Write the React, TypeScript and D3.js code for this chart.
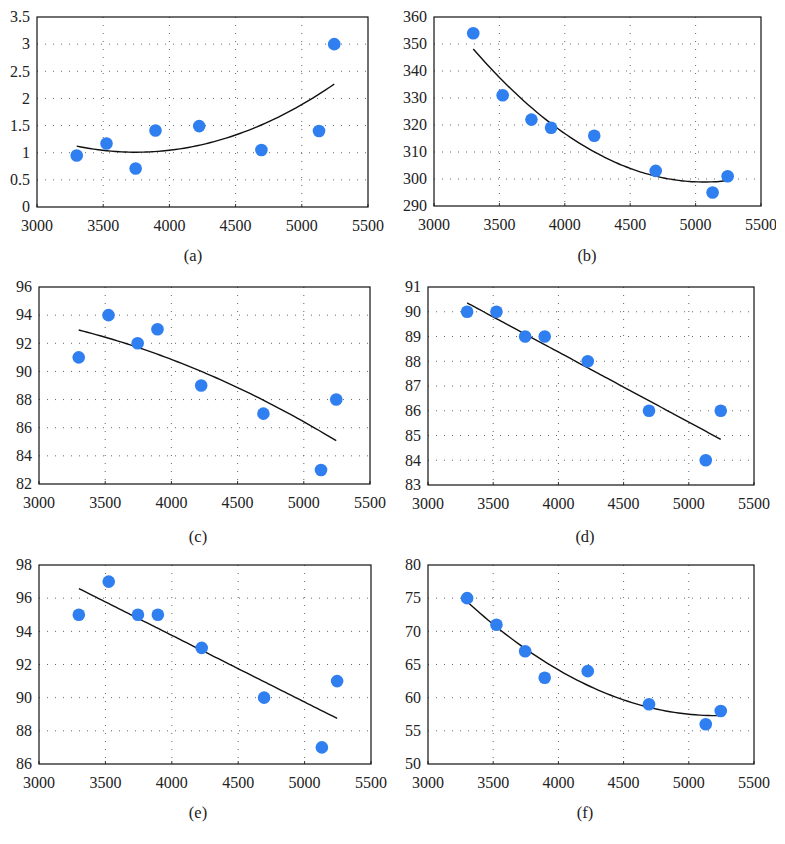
import React from "react";
import * as d3 from "d3";

const xValues = [3300, 3525, 3745, 3895, 4225, 4695, 5130, 5245];
const xTicks = [3000, 3500, 4000, 4500, 5000, 5500];

const seriesA = [0.95, 1.17, 0.71, 1.41, 1.49, 1.05, 1.4, 3.0];
const seriesB = [354, 331, 322, 319, 316, 303, 295, 301];
const seriesC = [91, 94, 92, 93, 89, 87, 83, 88];
const seriesD = [90, 90, 89, 89, 88, 86, 84, 86];
const seriesE = [95, 97, 95, 95, 93, 90, 87, 91];
const seriesF = [75, 71, 67, 63, 64, 59, 56, 58];

const ticksA = [0, 0.5, 1, 1.5, 2, 2.5, 3, 3.5];
const ticksB = [290, 300, 310, 320, 330, 340, 350, 360];
const ticksC = [82, 84, 86, 88, 90, 92, 94, 96];
const ticksD = [83, 84, 85, 86, 87, 88, 89, 90, 91];
const ticksE = [86, 88, 90, 92, 94, 96, 98];
const ticksF = [50, 55, 60, 65, 70, 75, 80];

const captions = ["(a)", "(b)", "(c)", "(d)", "(e)", "(f)"];
const fitDegrees = [2, 2, 2, 1, 1, 2];

type Panel = {
  values: number[];
  ticks: number[];
  caption: string;
  degree: number;
  left: number;
  right: number;
  top: number;
  bottom: number;
  capX: number;
  capY: number;
};

const layout = [
  { left: 37, right: 368, top: 17, bottom: 207, capX: 193, capY: 261 },
  { left: 434, right: 761, top: 17, bottom: 206, capX: 587, capY: 261 },
  { left: 39, right: 370, top: 287, bottom: 484, capX: 198, capY: 542 },
  { left: 428, right: 754, top: 287, bottom: 485, capX: 585, capY: 542 },
  { left: 39, right: 371, top: 565, bottom: 764, capX: 198, capY: 818 },
  { left: 428, right: 754, top: 565, bottom: 764, capX: 585, capY: 818 },
];

const allSeries = [seriesA, seriesB, seriesC, seriesD, seriesE, seriesF];
const allTicks = [ticksA, ticksB, ticksC, ticksD, ticksE, ticksF];

// least squares polynomial fit (degree 1 or 2), x centered
function polyFit(xs: number[], ys: number[], deg: number) {
  const mx = d3.mean(xs) as number;
  const n = deg + 1;
  const A: number[][] = Array.from({ length: n }, () => Array(n + 1).fill(0));
  xs.forEach((x0, k) => {
    const x = (x0 - mx) / 1000;
    for (let i = 0; i < n; i++) {
      for (let j = 0; j < n; j++) A[i][j] += Math.pow(x, i + j);
      A[i][n] += Math.pow(x, i) * ys[k];
    }
  });
  for (let i = 0; i < n; i++) {
    let p = i;
    for (let r = i + 1; r < n; r++) if (Math.abs(A[r][i]) > Math.abs(A[p][i])) p = r;
    [A[i], A[p]] = [A[p], A[i]];
    for (let r = 0; r < n; r++) {
      if (r === i) continue;
      const f = A[r][i] / A[i][i];
      for (let c = i; c <= n; c++) A[r][c] -= f * A[i][c];
    }
  }
  const coef = A.map((row, i) => row[n] / row[i]);
  return (x0: number) => {
    const x = (x0 - mx) / 1000;
    return coef.reduce((s, c, i) => s + c * Math.pow(x, i), 0);
  };
}

const FONT = '"Liberation Serif", "DejaVu Serif", serif';

function PanelView({ p }: { p: Panel }) {
  const xs = d3.scaleLinear().domain([3000, 5500]).range([p.left, p.right]);
  const ys = d3
    .scaleLinear()
    .domain([p.ticks[0], p.ticks[p.ticks.length - 1]])
    .range([p.bottom, p.top]);
  const f = polyFit(xValues, p.values, p.degree);
  const x0 = d3.min(xValues) as number;
  const x1 = d3.max(xValues) as number;
  const samples = d3.range(0, 61).map((i) => x0 + ((x1 - x0) * i) / 60);
  const line = d3
    .line<number>()
    .x((d) => xs(d))
    .y((d) => ys(f(d)))
    .curve(d3.curveMonotoneX);
  return (
    <g>
      {p.ticks.slice(1, -1).map((t) => (
        <line
          key={"h" + t}
          x1={p.left}
          x2={p.right}
          y1={ys(t)}
          y2={ys(t)}
          stroke="#666"
          strokeWidth={1}
          strokeDasharray="1 7"
        />
      ))}
      {xTicks.slice(1, -1).map((t) => (
        <line
          key={"v" + t}
          x1={xs(t)}
          x2={xs(t)}
          y1={p.top}
          y2={p.bottom}
          stroke="#666"
          strokeWidth={1}
          strokeDasharray="1 7"
        />
      ))}
      {xTicks.map((t) => (
        <line key={"xt" + t} x1={xs(t)} x2={xs(t)} y1={p.bottom} y2={p.bottom - 3} stroke="#333" />
      ))}
      <rect
        x={p.left}
        y={p.top}
        width={p.right - p.left}
        height={p.bottom - p.top}
        fill="none"
        stroke="#111"
        strokeWidth={1.2}
      />
      <path d={line(samples) || ""} fill="none" stroke="#111" strokeWidth={1.4} />
      {xValues.map((x, i) => (
        <circle key={"c" + i} cx={xs(x)} cy={ys(p.values[i])} r={6.3} fill="#2f7ff0" />
      ))}
      {p.ticks.map((t) => (
        <text
          key={"yl" + t}
          x={p.left - 7}
          y={ys(t)}
          dy="0.33em"
          textAnchor="end"
          style={{ fontFamily: FONT }}
          fontSize={16}
          fill="#222"
        >
          {String(t)}
        </text>
      ))}
      {xTicks.map((t) => (
        <text
          key={"xl" + t}
          x={xs(t)}
          y={p.bottom + 18}
          dy="0.35em"
          textAnchor="middle"
          style={{ fontFamily: FONT }}
          fontSize={16}
          fill="#222"
        >
          {t}
        </text>
      ))}
      <text x={p.capX} y={p.capY} textAnchor="middle" style={{ fontFamily: FONT }} fontSize={16.5} fill="#222">
        {p.caption}
      </text>
    </g>
  );
}

export default function App() {
  const panels: Panel[] = layout.map((l, i) => ({
    ...l,
    values: allSeries[i],
    ticks: allTicks[i],
    caption: captions[i],
    degree: fitDegrees[i],
  }));
  return (
    <svg
      width={785}
      height={844}
      style={{ position: "absolute", left: 0, top: 0, background: "#fff" }}
    >
      <rect x={0} y={0} width={785} height={844} fill="#fff" />
      {panels.map((p, i) => (
        <PanelView key={i} p={p} />
      ))}
      <rect x={776} y={210} width={9} height={30} fill="#fff" />
    </svg>
  );
}
